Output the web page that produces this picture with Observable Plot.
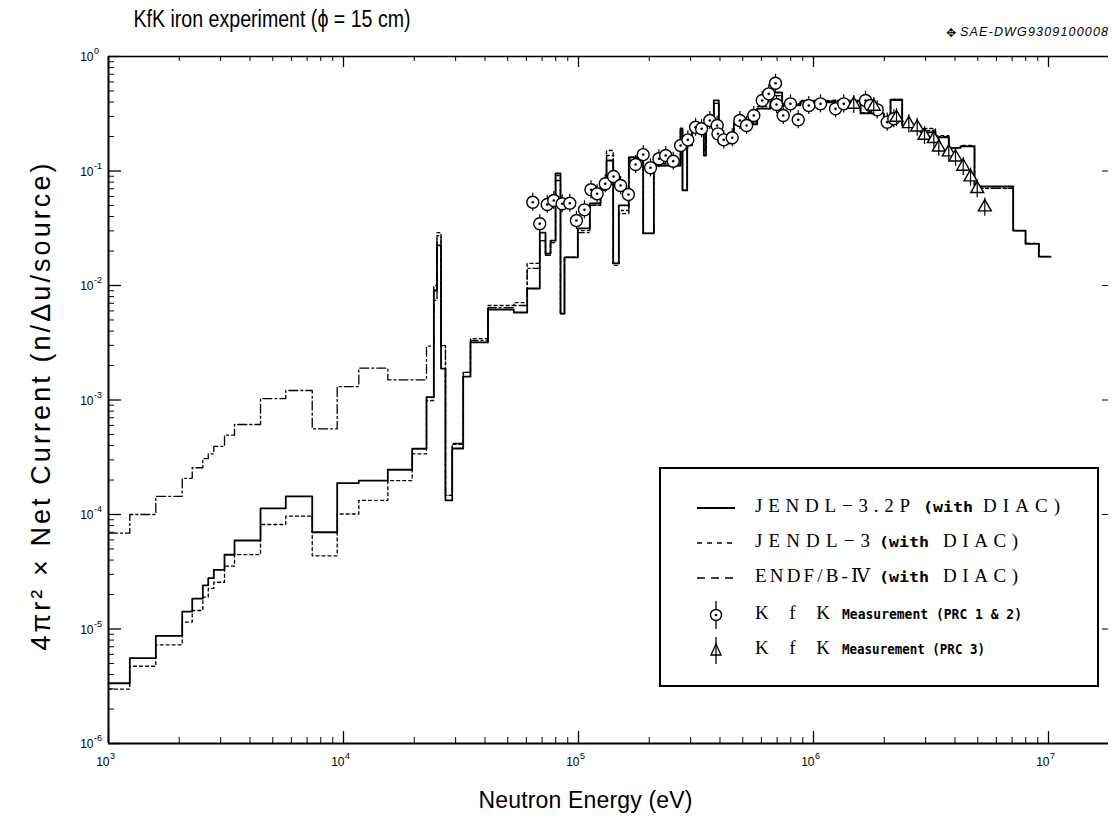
<!DOCTYPE html>
<html>
<head>
<meta charset="utf-8">
<script src="https://cdn.jsdelivr.net/npm/d3@7"></script>
<script src="https://cdn.jsdelivr.net/npm/@observablehq/plot@0.6"></script>
<style>
  body { margin: 0; background: #fff; }
  #wrap { position: relative; width: 1115px; height: 827px; background: #fff; }
  #overlay { position: absolute; left: 0; top: 0; pointer-events: none; }
  #overlay .cap { font-family: "Liberation Serif", "DejaVu Serif", serif; font-size: 19px; }
  #overlay .mono { font-family: "DejaVu Sans Mono", "Liberation Mono", monospace; font-size: 14px; font-weight: bold; }
  #overlay .id { font-family: "Liberation Sans", Arial, sans-serif; font-size: 12.5px; font-style: italic; }
</style>
</head>
<body>
<div id="wrap"></div>
<script>
// ---- Energy group boundaries (eV), shared by the three calculated spectra ----
const edges = [1000, 1232, 1590, 2059, 2271, 2520, 2657, 2806, 3116, 3437,
  4435, 5681, 7360, 9401, 11620, 15440, 19600, 22550, 24230, 25000,
  26000, 27160, 29010, 32310, 34700, 41200, 53060, 60480, 68430, 72370,
  76030, 79860, 83830, 87170, 99310, 111700, 124100, 131600, 140500, 148400,
  163700, 188500, 209200, 271600, 277000, 290100, 304600, 341400, 348800, 376500,
  395400, 458100, 576000, 656100, 735900, 880500, 1585000, 1991000, 2127000, 2385000,
  2853000, 3304000, 3764000, 4222000, 4843000, 7077000, 7985000, 9094000, 10200000];

// JENDL-3.2P (with DIAC) — solid
const jendl32 = [3.36e-6, 5.56e-6, 8.72e-6, 1.42e-5, 1.84e-5, 2.40e-5, 2.78e-5, 3.29e-5, 4.45e-5, 5.93e-5,
  1.13e-4, 1.44e-4, 7.0e-5, 1.88e-4, 1.98e-4, 2.46e-4, 3.75e-4, 1.06e-3, 9.04e-3, 2.24e-2,
  1.88e-3, 1.33e-4, 3.77e-4, 1.60e-3, 3.18e-3, 6.17e-3, 5.81e-3, 9.41e-3, 2.90e-2, 1.90e-2,
  2.47e-2, 9.51e-2, 5.69e-3, 1.76e-2, 3.15e-2, 5.20e-2, 7.18e-2, 0.1235, 1.56e-2, 5.00e-2,
  0.132, 2.85e-2, 0.1117, 0.235, 6.76e-2, 0.177, 0.250, 0.1366, 0.260, 0.413,
  0.174, 0.255, 0.351, 0.485, 0.381, 0.405, 0.318, 0.287, 0.419, 0.250,
  0.218, 0.197, 0.159, 0.164, 0.0732, 0.0302, 0.0231, 0.0179];

// JENDL-3 (with DIAC) — dotted
const jendl3 = [2.98e-6, 4.73e-6, 7.28e-6, 1.15e-5, 1.45e-5, 1.90e-5, 2.26e-5, 2.56e-5, 3.54e-5, 4.47e-5,
  8.18e-5, 9.66e-5, 4.36e-5, 1.01e-4, 1.33e-4, 1.98e-4, 3.39e-4, 9.90e-4, 1.00e-2, 2.90e-2,
  2.99e-3, 1.47e-4, 4.09e-4, 1.74e-3, 3.44e-3, 6.69e-3, 7.10e-3, 1.56e-2, 2.47e-2, 1.83e-2,
  2.37e-2, 9.13e-2, 5.69e-3, 1.76e-2, 3.02e-2, 5.0e-2, 6.76e-2, 0.151, 1.50e-2, 4.25e-2,
  0.1285, 2.85e-2, 0.1163, 0.226, 6.76e-2, 0.167, 0.250, 0.151, 0.260, 0.389,
  0.185, 0.265, 0.366, 0.456, 0.389, 0.413, 0.324, 0.293, 0.421, 0.250,
  0.235, 0.204, 0.160, 0.167, 0.0704, 0.0302, 0.0233, 0.0179];

// ENDF/B-IV (with DIAC) — dash-dot
const endfb4 = [6.87e-5, 1.00e-4, 1.44e-4, 2.07e-4, 2.56e-4, 3.07e-4, 3.39e-4, 3.93e-4, 4.93e-4, 6.11e-4,
  1.03e-3, 1.21e-3, 5.60e-4, 1.31e-3, 1.90e-3, 1.50e-3, 1.50e-3, 2.95e-3, 7.40e-3, 2.73e-2,
  2.99e-3, 1.47e-4, 4.17e-4, 1.74e-3, 3.31e-3, 6.42e-3, 6.69e-3, 1.41e-2, 2.47e-2, 1.83e-2,
  2.37e-2, 8.26e-2, 5.69e-3, 1.76e-2, 2.90e-2, 5.0e-2, 6.76e-2, 0.1366, 1.56e-2, 4.52e-2,
  0.1235, 2.85e-2, 0.1117, 0.226, 6.76e-2, 0.167, 0.240, 0.151, 0.250, 0.389,
  0.185, 0.255, 0.351, 0.456, 0.373, 0.396, 0.318, 0.287, 0.413, 0.245,
  0.226, 0.200, 0.160, 0.164, 0.0704, 0.0302, 0.0233, 0.0179];

// KfK Measurement (PRC 1 & 2)
const prc12Energy = [6.39e4, 6.84e4, 7.36e4, 7.85e4, 8.52e4, 9.18e4, 9.80e4, 1.06e5, 1.13e5, 1.20e5,
  1.30e5, 1.41e5, 1.51e5, 1.63e5, 1.75e5, 1.885e5, 2.025e5, 2.20e5, 2.35e5, 2.53e5,
  2.72e5, 2.92e5, 3.15e5, 3.34e5, 3.62e5, 3.89e5, 3.92e5, 4.15e5, 4.51e5, 4.86e5,
  5.19e5, 5.57e5, 6.05e5, 6.45e5, 6.89e5, 6.96e5, 7.43e5, 7.98e5, 8.61e5, 9.55e5,
  1.071e6, 1.241e6, 1.345e6, 1.665e6, 1.748e6, 1.867e6, 2.059e6, 2.196e6];
const prc12Value = [0.0534, 0.0346, 0.0510, 0.0553, 0.0517, 0.0523, 0.0370, 0.0458, 0.0685, 0.0632,
  0.0773, 0.0895, 0.0747, 0.0623, 0.114, 0.139, 0.1066, 0.128, 0.1366, 0.1218,
  0.167, 0.187, 0.241, 0.234, 0.276, 0.250, 0.211, 0.187, 0.195, 0.276,
  0.250, 0.305, 0.413, 0.472, 0.584, 0.381, 0.305, 0.386, 0.280, 0.373,
  0.386, 0.349, 0.386, 0.413, 0.373, 0.342, 0.267, 0.286];

// KfK Measurement (PRC 3)
const prc3Energy = [1.484e6, 1.805e6, 2.255e6, 2.544e6, 2.762e6, 2.967e6, 3.251e6, 3.414e6, 3.764e6, 4.020e6,
  4.335e6, 4.657e6, 4.973e6, 5.357e6];
const prc3Value = [0.381, 0.366, 0.293, 0.258, 0.241, 0.204, 0.191, 0.161, 0.146, 0.132,
  0.1095, 0.0883, 0.0699, 0.0483];

const relErr = 0.2; // approximate measurement uncertainty shown by the error bars

const xTickValues = [1e3, 1e4, 1e5, 1e6, 1e7];
const yTickValues = [1e-6, 1e-5, 1e-4, 1e-3, 1e-2, 1e-1, 1];

const titleText = "KfK iron experiment (\u03D5 = 15 cm)";
const xLabel = "Neutron Energy (eV)";
const yLabel = "4\u03C0r\u00B2 \u00D7 Net Current (n/\u0394u/source)";
const drawingId = "SAE-DWG9309100008";

// ---- build tables ----
function steps(vals) {
  const pts = vals.map((v, i) => ({E: edges[i], v}));
  pts.push({E: edges[vals.length], v: vals[vals.length - 1]});
  return pts;
}
const sJ32 = steps(jendl32), sJ3 = steps(jendl3), sEN = steps(endfb4);
const prc12 = prc12Energy.map((E, i) => ({E, v: prc12Value[i]}));
const prc3 = prc3Energy.map((E, i) => ({E, v: prc3Value[i]}));

const xDomain = [1e3, 1.8e7];
const xMinor = [], yMinor = [];
for (let k = 3; k <= 7; k++) for (let m = 2; m <= 9; m++) { const t = m * 10 ** k; if (t <= xDomain[1]) xMinor.push(t); }
for (let k = -6; k < 0; k++) for (let m = 2; m <= 9; m++) yMinor.push(m * 10 ** k);
const expo = d => String(Math.round(Math.log10(d)));

const W = 1115, H = 827, mL = 108, mR = 7, mT = 56, mB = 84;
const pw = W - mL - mR, ph = H - mT - mB;

const chart = Plot.plot({
  width: W, height: H,
  marginLeft: mL, marginRight: mR, marginTop: mT, marginBottom: mB,
  style: {fontFamily: "'Liberation Sans', Arial, sans-serif", background: "#fff", color: "#000"},
  x: {type: "log", domain: xDomain, axis: null},
  y: {type: "log", domain: [1e-6, 1], axis: null},
  marks: [
    // tick labels 10^n
    Plot.text(xTickValues, {x: d => d, frameAnchor: "bottom", text: () => "10", textAnchor: "end", lineAnchor: "middle", dx: 1, dy: 19, fontSize: 12}),
    Plot.text(xTickValues, {x: d => d, frameAnchor: "bottom", text: expo, textAnchor: "start", lineAnchor: "middle", dx: 1.5, dy: 13, fontSize: 9}),
    Plot.text(yTickValues, {y: d => d, frameAnchor: "left", text: () => "10", textAnchor: "end", lineAnchor: "middle", dx: -15, dy: 1, fontSize: 12}),
    Plot.text(yTickValues, {y: d => d, frameAnchor: "left", text: expo, textAnchor: "start", lineAnchor: "middle", dx: -14.5, dy: -5, fontSize: 9}),
    // inward ticks
    Plot.tickX(xTickValues, {x: d => d, insetTop: ph - 12, strokeWidth: 1.3}),
    Plot.tickX(xMinor, {x: d => d, insetTop: ph - 6}),
    Plot.tickX(xTickValues, {x: d => d, insetBottom: ph - 11, strokeWidth: 1.3}),
    Plot.tickX(xMinor, {x: d => d, insetBottom: ph - 5}),
    Plot.tickY(yTickValues, {y: d => d, insetRight: pw - 13, strokeWidth: 1.3}),
    Plot.tickY(yMinor, {y: d => d, insetRight: pw - 6}),
    Plot.tickY(yTickValues, {y: d => d, insetLeft: pw - 6}),
    // frame lines
    Plot.ruleX([xDomain[0]], {strokeWidth: 2}),
    Plot.ruleY([1e-6], {strokeWidth: 2}),
    Plot.ruleY([1], {strokeWidth: 1.5}),
    // calculated spectra
    Plot.line(sEN, {x: "E", y: "v", curve: "step-after", stroke: "#000", strokeWidth: 1.3, strokeDasharray: "9,3,2,3"}),
    Plot.line(sJ3, {x: "E", y: "v", curve: "step-after", stroke: "#000", strokeWidth: 1.3, strokeDasharray: "3,3"}),
    Plot.line(sJ32, {x: "E", y: "v", curve: "step-after", stroke: "#000", strokeWidth: 1.8}),
    // measurements PRC 1 & 2
    Plot.ruleX(prc12, {x: "E", y1: d => d.v / (1 + relErr), y2: d => d.v * (1 + relErr), stroke: "#000", strokeWidth: 1.2}),
    Plot.dot(prc12, {x: "E", y: "v", r: 6, fill: "#fff", stroke: "#000", strokeWidth: 1.4}),
    Plot.dot(prc12, {x: "E", y: "v", r: 1.3, fill: "#000"}),
    // measurements PRC 3
    Plot.dot(prc3, {x: "E", y: "v", symbol: "triangle", r: 4.8, fill: "#fff", stroke: "#000", strokeWidth: 1.4}),
    Plot.ruleX(prc3, {x: "E", y1: d => d.v / (1 + relErr), y2: d => d.v * (1 + relErr), stroke: "#000", strokeWidth: 1.2}),
    // titles
    Plot.text([titleText], {text: d => d, frameAnchor: "top-left", textAnchor: "start", lineAnchor: "middle", dx: 25, dy: -37, fontSize: 23}),
    Plot.text([xLabel], {text: d => d, frameAnchor: "bottom", textAnchor: "middle", lineAnchor: "middle", dx: -23, dy: 57, fontSize: 23}),
    Plot.text([yLabel], {text: d => d, frameAnchor: "left", textAnchor: "middle", lineAnchor: "middle", rotate: -90, dx: -67, dy: 7, fontSize: 27})
  ]
});

const wrap = document.getElementById("wrap");
wrap.appendChild(chart);

// fit title texts to the reference lengths
const fit = {[titleText]: [277, "spacingAndGlyphs"], [xLabel]: [214, "spacing"], [yLabel]: [487, "spacing"]};
d3.select(chart).selectAll("text").each(function () {
  const f = fit[this.textContent];
  if (f) { this.setAttribute("textLength", f[0]); this.setAttribute("lengthAdjust", f[1]); }
});

// ---- overlay: legend + drawing id ----
const legendRows = [
  {kind: "solid", parts: [["cap", "JENDL\u22123.2P", 96, 155], ["mono", "(with", 264, 50], ["cap", "DIAC)", 324, 77]]},
  {kind: "dot", parts: [["cap", "JENDL\u22123", 96, 115], ["mono", "(with", 220, 50], ["cap", "DIAC)", 284, 75]]},
  {kind: "dash", parts: [["cap", "ENDF/B-\u2163", 96, 115], ["mono", "(with", 220, 50], ["cap", "DIAC)", 284, 75]]},
  {kind: "circle", parts: [["cap", "KfK", 96, 75], ["mono", "Measurement (PRC 1 & 2)", 183, 180]]},
  {kind: "triangle", parts: [["cap", "KfK", 96, 75], ["mono", "Measurement (PRC 3)", 183, 143]]}
];
const ns = "http://www.w3.org/2000/svg";
const ov = document.createElementNS(ns, "svg");
ov.setAttribute("id", "overlay");
ov.setAttribute("width", W); ov.setAttribute("height", H);
const add = (parent, tag, attrs, txt) => {
  const el = document.createElementNS(ns, tag);
  Object.entries(attrs).forEach(([k, v]) => el.setAttribute(k, v));
  if (txt != null) el.textContent = txt;
  parent.appendChild(el); return el;
};
// drawing id
add(ov, "text", {class: "id", x: 1108, y: 33, "text-anchor": "end", "dominant-baseline": "middle", textLength: 148, lengthAdjust: "spacing"}, drawingId);
add(ov, "text", {x: 951, y: 33, "text-anchor": "middle", "dominant-baseline": "middle", "font-size": 12, "font-family": "DejaVu Sans"}, "\u2725");
// legend
const lg = add(ov, "g", {transform: "translate(659,467)"});
add(lg, "rect", {x: 1, y: 1, width: 438, height: 218, fill: "#fff", stroke: "#000", "stroke-width": 2});
const rowY = [41, 76, 111, 148, 183];
legendRows.forEach((row, i) => {
  const y = rowY[i];
  if (row.kind === "solid") add(lg, "line", {x1: 38, x2: 76, y1: y, y2: y, stroke: "#000", "stroke-width": 1.8});
  if (row.kind === "dot") add(lg, "line", {x1: 38, x2: 76, y1: y, y2: y, stroke: "#000", "stroke-width": 1.3, "stroke-dasharray": "5,5"});
  if (row.kind === "dash") add(lg, "line", {x1: 38, x2: 76, y1: y, y2: y, stroke: "#000", "stroke-width": 1.3, "stroke-dasharray": "8,6"});
  if (row.kind === "circle") {
    add(lg, "line", {x1: 57, x2: 57, y1: y - 14, y2: y + 14, stroke: "#000", "stroke-width": 1.3});
    add(lg, "circle", {cx: 57, cy: y, r: 5.5, fill: "#fff", stroke: "#000", "stroke-width": 1.4});
    add(lg, "circle", {cx: 57, cy: y, r: 1.3, fill: "#000"});
  }
  if (row.kind === "triangle") {
    add(lg, "path", {d: `M57,${y - 6}L62,${y + 5}L52,${y + 5}Z`, fill: "#fff", stroke: "#000", "stroke-width": 1.3});
    add(lg, "line", {x1: 57, x2: 57, y1: y - 13, y2: y + 14, stroke: "#000", "stroke-width": 1.3});
  }
  row.parts.forEach(([cls, s, x, len]) => {
    add(lg, "text", {class: cls, x, y, "dominant-baseline": "middle", textLength: len,
      lengthAdjust: cls === "mono" ? "spacingAndGlyphs" : "spacing"}, s);
  });
});
wrap.appendChild(ov);
</script>
</body>
</html>
